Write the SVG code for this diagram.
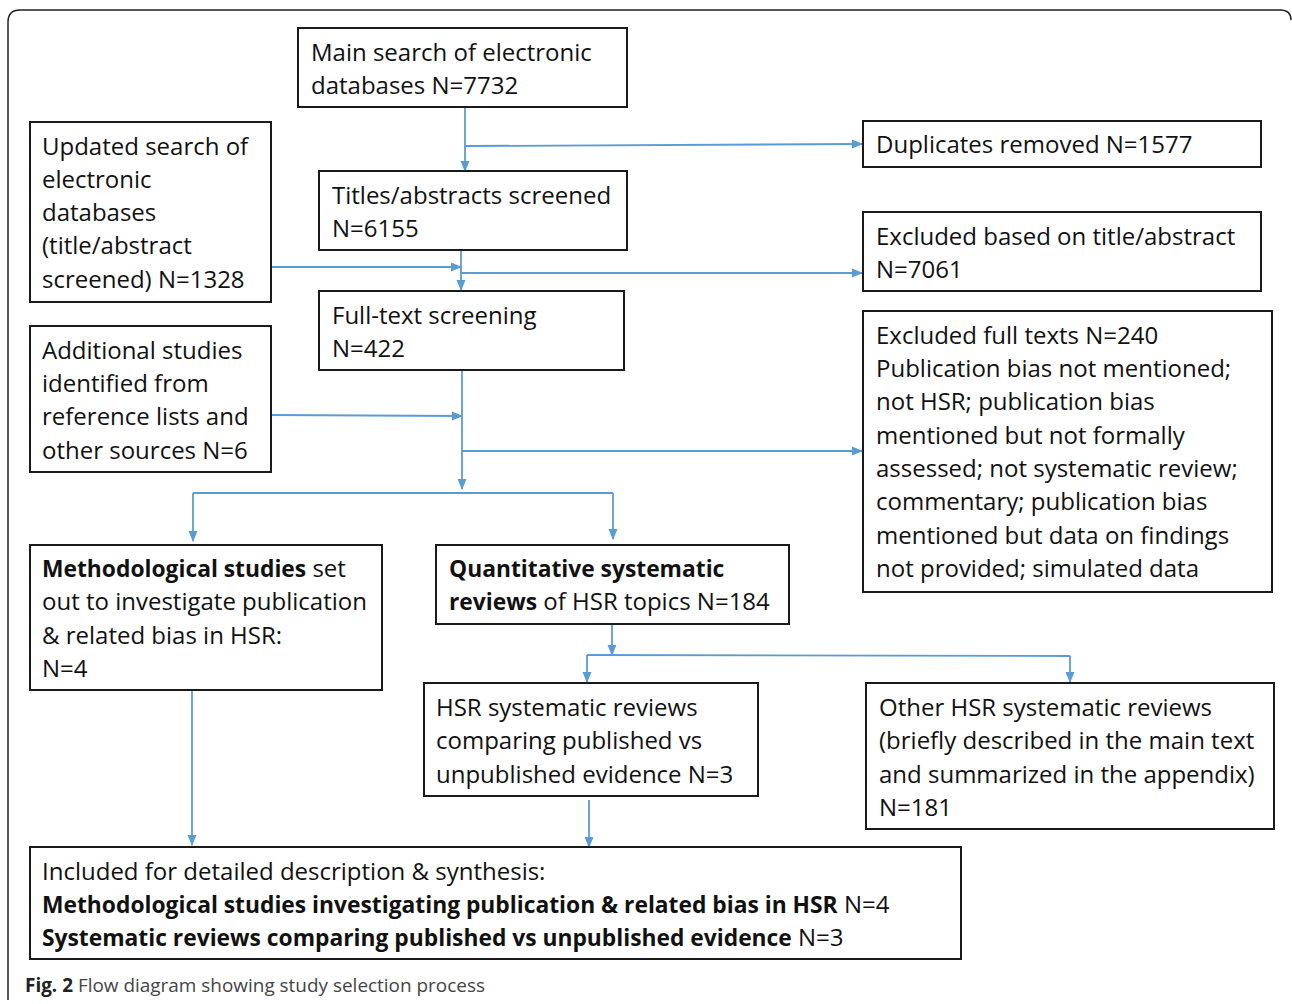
<svg xmlns="http://www.w3.org/2000/svg" width="1292" height="1004" viewBox="0 0 1292 1004">
<defs>
<marker id="ah" markerWidth="11" markerHeight="11" refX="10" refY="5.5" orient="auto" markerUnits="userSpaceOnUse">
<path d="M0,1 L11,5.5 L0,10 Z" fill="#5b9bd5"/>
</marker>
<style>
.box{fill:#fff;stroke:#1a1a1a;stroke-width:2}
.t{font-family:"Open Sans","Liberation Sans",sans-serif;font-size:24px;fill:#111}
.b{font-weight:bold;font-size:22.8px}
.c{fill:none;stroke:#5b9bd5;stroke-width:1.8}
.a{marker-end:url(#ah)}
</style>
</defs>
<rect width="1292" height="1004" fill="#fff"/>
<path d="M8,1000 L8,22 Q8,10 20,10 L1280,10 Q1291,10 1291,20" fill="none" stroke="#222" stroke-width="1.5"/>

<g id="connectors">
<path class="c a" d="M465,107 L465,171"/>
<path class="c a" d="M465,146 L862,144"/>
<path class="c a" d="M461,250 L461,290"/>
<path class="c a" d="M271,267 L461,267"/>
<path class="c a" d="M461,273 L862,273"/>
<path class="c a" d="M462,370 L462,489"/>
<path class="c a" d="M271,415 L462,416"/>
<path class="c a" d="M462,451 L862,451"/>
<path class="c" d="M193,493 L613,493"/>
<path class="c a" d="M193,493 L193,541"/>
<path class="c a" d="M613,493 L613,539"/>
<path class="c a" d="M612,624 L612,655"/>
<path class="c" d="M587,655 L1070,656"/>
<path class="c a" d="M587,655 L587,682"/>
<path class="c a" d="M1070,656 L1070,682"/>
<path class="c a" d="M192,690 L192,845"/>
<path class="c a" d="M589,800 L589,847"/>
</g>

<g id="main-search">
<rect class="box" x="298" y="28" width="329" height="79"/>
<text class="t" x="311" y="61">Main search of electronic</text>
<text class="t" x="311" y="94">databases N=7732</text>
</g>

<g id="duplicates">
<rect class="box" x="863" y="121" width="398" height="46"/>
<text class="t" x="876" y="153">Duplicates removed N=1577</text>
</g>

<g id="updated-search">
<rect class="box" x="30" y="122" width="241" height="180"/>
<text class="t" x="42" y="155">Updated search of</text>
<text class="t" x="42" y="188">electronic</text>
<text class="t" x="42" y="221">databases</text>
<text class="t" x="42" y="254">(title/abstract</text>
<text class="t" x="42" y="288">screened) N=1328</text>
</g>

<g id="titles-screened">
<rect class="box" x="319" y="171" width="308" height="79"/>
<text class="t" x="332" y="204">Titles/abstracts screened</text>
<text class="t" x="332" y="237">N=6155</text>
</g>

<g id="excluded-title">
<rect class="box" x="863" y="212" width="398" height="79"/>
<text class="t" x="876" y="245">Excluded based on title/abstract</text>
<text class="t" x="876" y="278">N=7061</text>
</g>

<g id="full-text">
<rect class="box" x="319" y="291" width="305" height="79"/>
<text class="t" x="332" y="324">Full-text screening</text>
<text class="t" x="332" y="357">N=422</text>
</g>

<g id="additional-studies">
<rect class="box" x="30" y="326" width="241" height="146"/>
<text class="t" x="42" y="359">Additional studies</text>
<text class="t" x="42" y="392">identified from</text>
<text class="t" x="42" y="425">reference lists and</text>
<text class="t" x="42" y="459">other sources N=6</text>
</g>

<g id="excluded-full">
<rect class="box" x="863" y="311" width="409" height="281"/>
<text class="t" x="876" y="344">Excluded full texts N=240</text>
<text class="t" x="876" y="377">Publication bias not mentioned;</text>
<text class="t" x="876" y="410">not HSR; publication bias</text>
<text class="t" x="876" y="444">mentioned but not formally</text>
<text class="t" x="876" y="477">assessed; not systematic review;</text>
<text class="t" x="876" y="510">commentary; publication bias</text>
<text class="t" x="876" y="544">mentioned but data on findings</text>
<text class="t" x="876" y="577">not provided; simulated data</text>
</g>

<g id="methodological">
<rect class="box" x="30" y="545" width="352" height="145"/>
<text class="t" x="42" y="577"><tspan class="b">Methodological studies</tspan> set</text>
<text class="t" x="42" y="610">out to investigate publication</text>
<text class="t" x="42" y="644">&amp; related bias in HSR:</text>
<text class="t" x="42" y="677">N=4</text>
</g>

<g id="quantitative">
<rect class="box" x="436" y="545" width="353" height="79"/>
<text class="t" x="449" y="577"><tspan class="b">Quantitative systematic</tspan></text>
<text class="t" x="449" y="610"><tspan class="b">reviews</tspan> of HSR topics N=184</text>
</g>

<g id="hsr-comparing">
<rect class="box" x="424" y="683" width="334" height="113"/>
<text class="t" x="436" y="716">HSR systematic reviews</text>
<text class="t" x="436" y="749">comparing published vs</text>
<text class="t" x="436" y="783">unpublished evidence N=3</text>
</g>

<g id="other-hsr">
<rect class="box" x="866" y="683" width="408" height="146"/>
<text class="t" x="879" y="716">Other HSR systematic reviews</text>
<text class="t" x="879" y="749">(briefly described in the main text</text>
<text class="t" x="879" y="783">and summarized in the appendix)</text>
<text class="t" x="879" y="816">N=181</text>
</g>

<g id="included">
<rect class="box" x="30" y="847" width="931" height="112"/>
<text class="t" x="42" y="880">Included for detailed description &amp; synthesis:</text>
<text class="t" x="42" y="913"><tspan class="b">Methodological studies investigating publication &amp; related bias in HSR</tspan> N=4</text>
<text class="t" x="42" y="946"><tspan class="b">Systematic reviews comparing published vs unpublished evidence</tspan> N=3</text>
</g>

<g id="caption">
<text x="25" y="992" font-family="Open Sans, Liberation Sans, sans-serif" font-size="19" fill="#444" textLength="460" lengthAdjust="spacingAndGlyphs"><tspan font-weight="bold" fill="#222">Fig. 2</tspan> Flow diagram showing study selection process</text>
</g>
</svg>
